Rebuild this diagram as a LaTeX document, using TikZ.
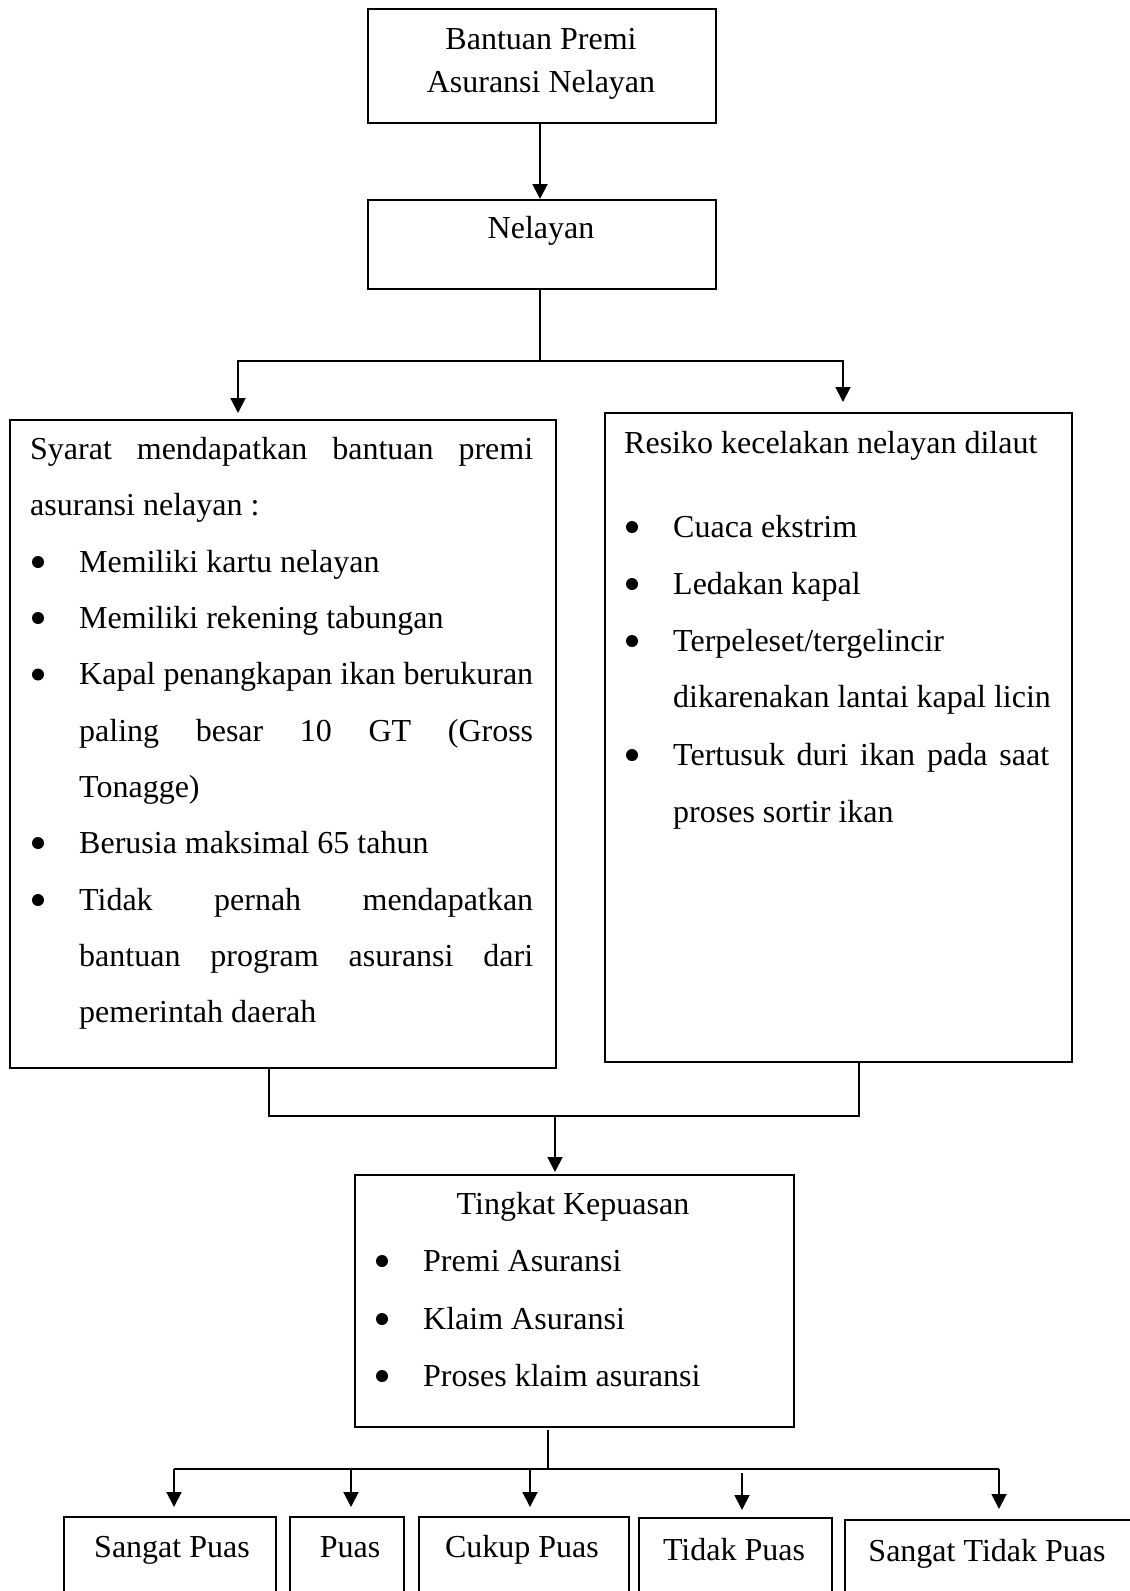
\documentclass[tikz,border=0pt]{standalone}
\usepackage{fontspec}
\setmainfont{Liberation Serif}
\usetikzlibrary{arrows.meta}
\newcommand\diagfont{\fontsize{32}{38}\selectfont}
\begin{document}
\begin{tikzpicture}[x=1pt,y=-1pt,
  box/.style={draw, line width=1.8pt, inner sep=0, anchor=north west},
  txt/.style={inner sep=0, anchor=base west, font=\diagfont},
  ctxt/.style={inner sep=0, anchor=base, font=\diagfont},
  bul/.style={circle, fill, inner sep=0, minimum size=12pt, yshift=10pt},
  link/.style={line width=1.9pt},
  arr/.style={link, -{Triangle[length=15pt,width=15pt]}}]
\useasboundingbox (0,0) rectangle (1130,1591);
\clip (0,0) rectangle (1130,1591);

% top of the flow
\node[box, minimum width=348pt, minimum height=114pt] (top) at (367,8) {};
\node[ctxt] (top1) at (541,49) {Bantuan Premi};
\node[ctxt] (top2) at (541,92) {Asuransi Nelayan};

\node[box, minimum width=348pt, minimum height=89pt] (nel) at (367,199) {};
\node[ctxt] (nel1) at (541,238) {Nelayan};

% requirements box
\node[box, minimum width=546pt, minimum height=648pt] (lbox) at (9,419) {};
\node[txt] (l1) at (30,459) {\makebox[503pt][s]{Syarat mendapatkan bantuan premi}};
\node[txt] (l2) at (30,515.5) {asuransi nelayan :};
\node[bul] (lb1) at (38,572) {};
\node[txt] (l3) at (79,572) {Memiliki kartu nelayan};
\node[bul] (lb2) at (38,628) {};
\node[txt] (l4) at (79,628) {Memiliki rekening tabungan};
\node[bul] (lb3) at (38,684.5) {};
\node[txt] (l5) at (79,684.5) {\makebox[454pt][s]{Kapal penangkapan ikan berukuran}};
\node[txt] (l6) at (79,741) {\makebox[454pt][s]{paling besar 10 GT (Gross}};
\node[txt] (l7) at (79,797) {Tonagge)};
\node[bul] (lb4) at (38,853) {};
\node[txt] (l8) at (79,853) {Berusia maksimal 65 tahun};
\node[bul] (lb5) at (38,910) {};
\node[txt] (l9) at (79,910) {\makebox[454pt][s]{Tidak pernah mendapatkan}};
\node[txt] (l10) at (79,966) {\makebox[454pt][s]{bantuan program asuransi dari}};
\node[txt] (l11) at (79,1022) {pemerintah daerah};

% risk box
\node[box, minimum width=467pt, minimum height=649pt] (rbox) at (604,412) {};
\node[txt] (r0) at (624,453) {Resiko kecelakan nelayan dilaut};
\node[bul] (rb1) at (632,537) {};
\node[txt] (r1) at (673,537) {Cuaca ekstrim};
\node[bul] (rb2) at (632,594) {};
\node[txt] (r2) at (673,594) {Ledakan kapal};
\node[bul] (rb3) at (632,651) {};
\node[txt] (r3) at (673,651) {Terpeleset/tergelincir};
\node[txt] (r4) at (673,707) {dikarenakan lantai kapal licin};
\node[bul] (rb4) at (632,765) {};
\node[txt] (r5) at (673,765) {\makebox[376pt][s]{Tertusuk duri ikan pada saat}};
\node[txt] (r6) at (673,822) {proses sortir ikan};

% satisfaction box
\node[box, minimum width=439pt, minimum height=252pt] (tk) at (354,1174) {};
\node[ctxt] (t0) at (573,1214) {Tingkat Kepuasan};
\node[bul] (tb1) at (382,1271) {};
\node[txt] (t1) at (423,1271) {Premi Asuransi};
\node[bul] (tb2) at (382,1329) {};
\node[txt] (t2) at (423,1329) {Klaim Asuransi};
\node[bul] (tb3) at (382,1386) {};
\node[txt] (t3) at (423,1386) {Proses klaim asuransi};

% outcome boxes
\node[box, minimum width=212pt, minimum height=100pt] (sp) at (63,1516) {};
\node[ctxt] (sp1) at (172,1557) {Sangat Puas};
\node[box, minimum width=114pt, minimum height=100pt] (p) at (289,1516) {};
\node[ctxt] (p1) at (350,1557) {Puas};
\node[box, minimum width=210pt, minimum height=100pt] (cp) at (418,1516) {};
\node[ctxt] (cp1) at (522,1557) {Cukup Puas};
\node[box, minimum width=193pt, minimum height=100pt] (tp) at (638,1517) {};
\node[ctxt] (tp1) at (734,1560) {Tidak Puas};
\node[box, minimum width=300pt, minimum height=100pt] (stp) at (844,1519) {};
\node[ctxt] (stp1) at (987,1561) {Sangat Tidak Puas};

% connectors
\draw[arr] (top.south -| 540,0) -- (nel.north -| 540,0);

\coordinate (j1) at (540,361);
\coordinate (la) at (238,413);
\coordinate (ra) at (843,402);
\draw[link] (nel.south -| j1) -- (j1);
\draw[arr] (j1) -| (la);
\draw[arr] (j1) -| (ra);

\coordinate (lj) at (269,1116);
\coordinate (rj) at (859,1116);
\coordinate (mj) at (555,1116);
\draw[link] (lbox.south -| lj) -- (lj) -- (rj) -- (rbox.south -| rj);
\draw[arr, shorten >=2pt] (mj) -- (tk.north -| mj);

\coordinate (bj) at (548,1469);
\coordinate (bl) at (174,1469);
\coordinate (br) at (999,1469);
\draw[link] ([yshift=-2pt]tk.south -| bj) -- (bj);
\draw[link] (bl) -- (br);
\draw[arr, shorten >=9pt] (bl) -- (sp.north -| bl);
\draw[arr, shorten >=9pt] (bj -| 351,0) -- (p.north -| 351,0);
\draw[arr, shorten >=9pt] (bj -| 530,0) -- (cp.north -| 530,0);
\draw[arr, shorten >=7pt] (742,1473) -- (tp.north -| 742,0);
\draw[arr, shorten >=10pt] (br) -- (stp.north -| br);
\end{tikzpicture}
\end{document}
